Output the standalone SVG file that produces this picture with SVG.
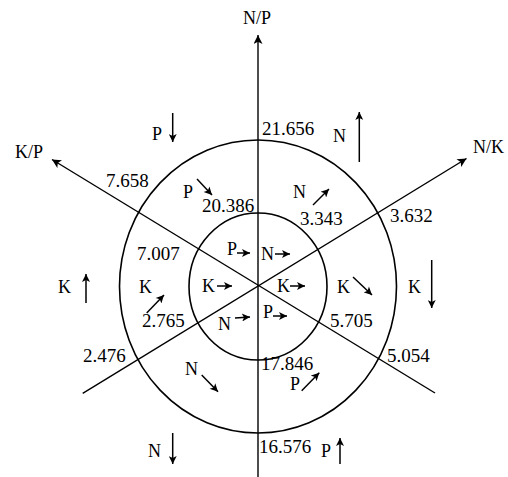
<svg xmlns="http://www.w3.org/2000/svg" width="508" height="477" viewBox="0 0 508 477">
<defs>
<marker id="ah" viewBox="0 0 10 10" refX="10" refY="5" markerWidth="11" markerHeight="9" markerUnits="userSpaceOnUse" orient="auto">
<path d="M0,0 L10,5 L0,10 L2.5,5 z" fill="#000"/>
</marker>
<marker id="ahs" viewBox="0 0 10 10" refX="10" refY="5" markerWidth="9" markerHeight="8" markerUnits="userSpaceOnUse" orient="auto">
<path d="M0,0 L10,5 L0,10 L2.5,5 z" fill="#000"/>
</marker>
</defs>
<style>
text{font-family:"Liberation Serif","Times New Roman",serif;font-size:18px;fill:#000}
.num{font-size:19px}
.ring{fill:none;stroke:#000;stroke-width:1.6}
.axis{stroke:#000;stroke-width:1.4;fill:none}
.arr{stroke:#000;stroke-width:1.5;fill:none;marker-end:url(#ahs)}
</style>
<rect width="508" height="477" fill="#fff"/>
<g id="rings">
<ellipse class="ring" cx="258" cy="286.5" rx="138.5" ry="146.5"/>
<ellipse class="ring" cx="258" cy="286.5" rx="69" ry="73.5"/>
</g>
<g id="connectors">
<line class="axis" x1="258" y1="477" x2="258" y2="35" marker-end="url(#ah)"/>
<line class="axis" x1="435" y1="393" x2="52" y2="159.5" marker-end="url(#ah)"/>
<line class="axis" x1="82.7" y1="393.3" x2="466.5" y2="158.5" marker-end="url(#ah)"/>
</g>
<g id="axis-labels">
<text x="243" y="24">N/P</text>
<text x="15" y="158">K/P</text>
<text x="473" y="153">N/K</text>
</g>
<g id="values">
<text class="num" x="262" y="135">21.656</text>
<text class="num" x="106" y="187">7.658</text>
<text class="num" x="202" y="212">20.386</text>
<text class="num" x="300" y="225">3.343</text>
<text class="num" x="390" y="222">3.632</text>
<text class="num" x="137" y="260">7.007</text>
<text class="num" x="142" y="327">2.765</text>
<text class="num" x="330" y="327">5.705</text>
<text class="num" x="83" y="362">2.476</text>
<text class="num" x="387" y="362">5.054</text>
<text class="num" x="261" y="370">17.846</text>
<text class="num" x="259" y="453">16.576</text>
</g>
<g id="outer-labels">
<text x="152" y="140">P</text>
<line class="arr" x1="172.7" y1="113" x2="172.7" y2="142"/>
<text x="333" y="142">N</text>
<line class="arr" x1="359.3" y1="162" x2="359.3" y2="112"/>
<text x="58" y="293">K</text>
<line class="arr" x1="86" y1="303" x2="86" y2="274"/>
<text x="408" y="293">K</text>
<line class="arr" x1="431.7" y1="260" x2="431.7" y2="308"/>
<text x="148" y="457">N</text>
<line class="arr" x1="172.7" y1="433" x2="172.7" y2="464"/>
<text x="321" y="457">P</text>
<line class="arr" x1="340" y1="464" x2="340" y2="438"/>
</g>
<g id="middle-labels">
<text x="183" y="198">P</text>
<line class="arr" x1="197" y1="179" x2="212" y2="195"/>
<text x="293" y="198">N</text>
<line class="arr" x1="313" y1="205" x2="329" y2="189"/>
<text x="139" y="293">K</text>
<line class="arr" x1="146.7" y1="313" x2="164" y2="295"/>
<text x="337" y="293">K</text>
<line class="arr" x1="353" y1="277" x2="372" y2="295"/>
<text x="185" y="375">N</text>
<line class="arr" x1="201.7" y1="375" x2="218" y2="391.7"/>
<text x="290" y="390">P</text>
<line class="arr" x1="301.7" y1="390.7" x2="319.3" y2="372.7"/>
</g>
<g id="inner-labels">
<text x="227" y="255">P</text>
<line class="arr" x1="237" y1="253" x2="250" y2="253"/>
<text x="261" y="260">N</text>
<line class="arr" x1="275" y1="254" x2="290" y2="254"/>
<text x="202" y="292">K</text>
<line class="arr" x1="217" y1="286" x2="232" y2="286"/>
<text x="277" y="292">K</text>
<line class="arr" x1="290" y1="286" x2="305" y2="286"/>
<text x="263" y="318">P</text>
<line class="arr" x1="273" y1="316" x2="287" y2="316"/>
<text x="218" y="330">N</text>
<line class="arr" x1="235" y1="318" x2="250" y2="317"/>
</g>
</svg>
